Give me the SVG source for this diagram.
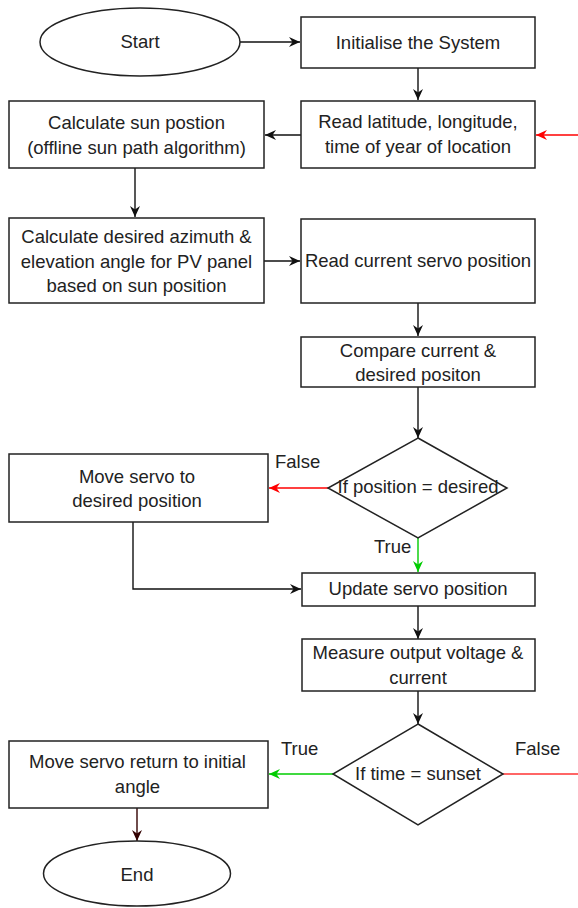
<svg xmlns="http://www.w3.org/2000/svg" width="578" height="908" viewBox="0 0 578 908">
<style>
  .node { fill: #ffffff; stroke: #222222; stroke-width: 1.5; }
  .t { font-family: "Liberation Sans", Arial, sans-serif; font-size: 18.5px; fill: #222222; text-anchor: middle; }
  .lbl { font-family: "Liberation Sans", Arial, sans-serif; font-size: 18.5px; fill: #222222; }
  .c { fill: none; stroke-width: 1.4; }
  .k { stroke: #111111; }
  .r { stroke: #ff0000; }
  .g { stroke: #00cc00; }
  .b { stroke: #330000; }
</style>
<defs>
  <marker id="ak" markerUnits="userSpaceOnUse" markerWidth="12" markerHeight="12" viewBox="0 0 12 12" refX="11" refY="6" orient="auto">
    <path d="M0,1 L11,6 L0,11 L3.5,6 z" fill="#111111"/>
  </marker>
  <marker id="ar" markerUnits="userSpaceOnUse" markerWidth="12" markerHeight="12" viewBox="0 0 12 12" refX="11" refY="6" orient="auto">
    <path d="M0,1 L11,6 L0,11 L3.5,6 z" fill="#ff0000"/>
  </marker>
  <marker id="ag" markerUnits="userSpaceOnUse" markerWidth="12" markerHeight="12" viewBox="0 0 12 12" refX="11" refY="6" orient="auto">
    <path d="M0,1 L11,6 L0,11 L3.5,6 z" fill="#00cc00"/>
  </marker>
  <marker id="ab" markerUnits="userSpaceOnUse" markerWidth="12" markerHeight="12" viewBox="0 0 12 12" refX="11" refY="6" orient="auto">
    <path d="M0,1 L11,6 L0,11 L3.5,6 z" fill="#330000"/>
  </marker>
</defs>

<g id="connectors">
  <path class="c k" d="M240,42 H300" marker-end="url(#ak)"/>
  <path class="c k" d="M418,68 V100" marker-end="url(#ak)"/>
  <path class="c r" d="M578,135 H536" marker-end="url(#ar)"/>
  <path class="c k" d="M301,135 H265" marker-end="url(#ak)"/>
  <path class="c k" d="M135,168 V217" marker-end="url(#ak)"/>
  <path class="c k" d="M264,261 H300" marker-end="url(#ak)"/>
  <path class="c k" d="M418,303 V336" marker-end="url(#ak)"/>
  <path class="c k" d="M418,387 V438" marker-end="url(#ak)"/>
  <path class="c r" d="M328,488 H269" marker-end="url(#ar)"/>
  <path class="c k" d="M133,522 V589 H301" marker-end="url(#ak)"/>
  <path class="c g" d="M418,538 V572" marker-end="url(#ag)"/>
  <path class="c k" d="M418,606 V639" marker-end="url(#ak)"/>
  <path class="c k" d="M418,691 V724" marker-end="url(#ak)"/>
  <path class="c g" d="M333,774 H269" marker-end="url(#ag)"/>
  <path class="c r" d="M503,774 H578" style="stroke:#ff3333"/>
  <path class="c b" d="M137,808 V841" marker-end="url(#ab)"/>
  <text class="lbl" x="275" y="468">False</text>
  <text class="lbl" x="374" y="553">True</text>
  <text class="lbl" x="281" y="755">True</text>
  <text class="lbl" x="515" y="755">False</text>
</g>

<g id="start">
  <ellipse class="node" cx="140" cy="42" rx="100" ry="34"/>
  <text class="t" x="140" y="48">Start</text>
</g>

<g id="initialise">
  <rect class="node" x="301" y="17" width="234" height="51"/>
  <text class="t" x="418" y="49">Initialise the System</text>
</g>

<g id="read-location">
  <rect class="node" x="301" y="101" width="234" height="67"/>
  <text class="t" x="418" y="128">Read latitude, longitude,</text>
  <text class="t" x="418" y="153">time of year of location</text>
</g>

<g id="calc-sun">
  <rect class="node" x="9" y="101" width="255" height="67"/>
  <text class="t" x="136.5" y="129">Calculate sun postion</text>
  <text class="t" x="136.5" y="154">(offline sun path algorithm)</text>
</g>

<g id="calc-angle">
  <rect class="node" x="9" y="218" width="255" height="85"/>
  <text class="t" x="136.5" y="243">Calculate desired azimuth &amp;</text>
  <text class="t" x="136.5" y="268">elevation angle for PV panel</text>
  <text class="t" x="136.5" y="292">based on sun position</text>
</g>

<g id="read-servo">
  <rect class="node" x="301" y="219" width="234" height="84"/>
  <text class="t" x="418" y="267">Read current servo position</text>
</g>

<g id="compare">
  <rect class="node" x="301" y="337" width="234" height="50"/>
  <text class="t" x="418" y="357">Compare current &amp;</text>
  <text class="t" x="418" y="381">desired positon</text>
</g>

<g id="decision-position">
  <polygon class="node" points="418,438 507,488 418,538 328,488"/>
  <text class="t" x="418" y="493">If position = desired</text>
</g>

<g id="move-servo">
  <rect class="node" x="9" y="454" width="259" height="68"/>
  <text class="t" x="137" y="483">Move servo to</text>
  <text class="t" x="137" y="507">desired position</text>
</g>

<g id="update-servo">
  <rect class="node" x="302" y="573" width="233" height="33"/>
  <text class="t" x="418" y="595">Update servo position</text>
</g>

<g id="measure">
  <rect class="node" x="302" y="639" width="233" height="52"/>
  <text class="t" x="418" y="659">Measure output voltage &amp;</text>
  <text class="t" x="418" y="684">current</text>
</g>

<g id="decision-sunset">
  <polygon class="node" points="418,724 503,774 418,825 333,774"/>
  <text class="t" x="418" y="780">If time = sunset</text>
</g>

<g id="move-return">
  <rect class="node" x="9" y="741" width="259" height="67"/>
  <text class="t" x="137.5" y="768">Move servo return to initial</text>
  <text class="t" x="137.5" y="793">angle</text>
</g>

<g id="end">
  <ellipse class="node" cx="137" cy="873.5" rx="93.5" ry="32.5"/>
  <text class="t" x="137" y="881">End</text>
</g>
</svg>
